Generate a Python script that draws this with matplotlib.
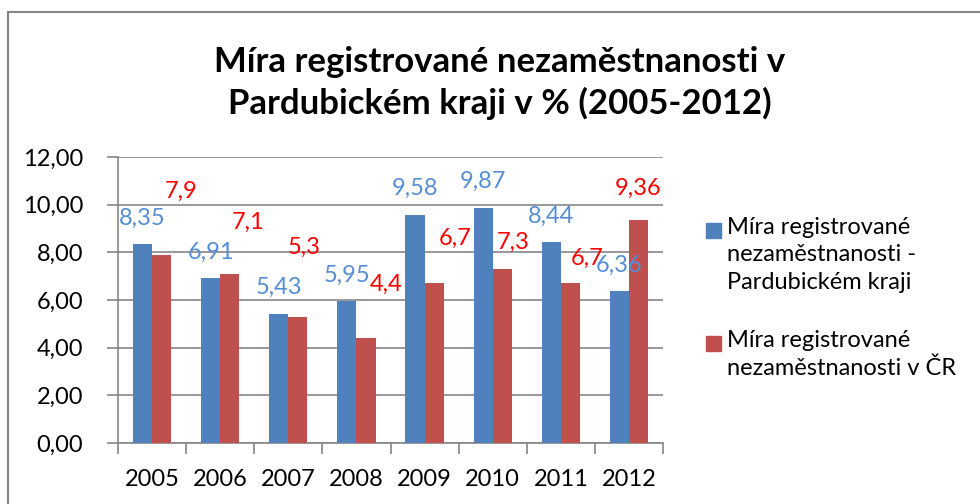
import matplotlib.pyplot as plt
from matplotlib.patches import Rectangle
import numpy as np

plt.rcParams['font.family'] = ['Lato', 'DejaVu Sans']

# Données
roky = ['2005', '2006', '2007', '2008', '2009', '2010', '2011', '2012']
pardubice = [8.35, 6.91, 5.43, 5.95, 9.58, 9.87, 8.44, 6.36]
cr = [7.9, 7.1, 5.3, 4.4, 6.7, 7.3, 6.7, 9.36]
popisky_pardubice = ['8,35', '6,91', '5,43', '5,95', '9,58', '9,87', '8,44', '6,36']
popisky_cr = ['7,9', '7,1', '5,3', '4,4', '6,7', '7,3', '6,7', '9,36']
nazvy = ['Míra registrované\nnezaměstnanosti -\nPardubickém kraji',
         'Míra registrované\nnezaměstnanosti v ČR']

# posun popisku (px) pro červené hodnoty - ručně umístěné jako v Excelu
posun_cr = [(20, 63), (18, 51), (6, 69), (20, 54), (21, 45), (11, 27), (17, 25), (0, 32)]

modra = '#4F81BD'
cervena = '#C0504D'
sediva = '#868686'

fig = plt.figure(figsize=(9.8, 5.04), dpi=100)
ax = fig.add_axes([118/980, 61/504, 545/980, 286/504])

x = np.arange(len(roky))
w = 0.28
ax.bar(x - w/2, pardubice, w, color=modra, zorder=3)
ax.bar(x + w/2, cr, w, color=cervena, zorder=3)

for i in range(len(roky)):
    ax.annotate(popisky_pardubice[i], (x[i] - w/2, pardubice[i]), xytext=(0, 26),
                textcoords='offset pixels', ha='center', va='center',
                color='#558ED5', fontsize=17)
    dx, dy = posun_cr[i]
    ax.annotate(popisky_cr[i], (x[i] + w/2, cr[i]), xytext=(dx, dy),
                textcoords='offset pixels', ha='center', va='center',
                color='#FF0000', fontsize=17)

ax.set_xlim(-0.5, len(roky) - 0.5)
ax.set_ylim(0, 12)
ax.set_yticks(np.arange(0, 13, 2))
ax.set_yticklabels([f'{v:.2f}'.replace('.', ',') for v in np.arange(0, 13, 2)])
ax.set_xticks(x)
ax.set_xticklabels(roky)
ax.set_xticks(np.arange(-0.5, len(roky)), minor=True)
ax.tick_params(axis='x', which='major', length=0, pad=19, labelsize=17)
ax.tick_params(axis='x', which='minor', length=8, color=sediva, width=1.2)
ax.tick_params(axis='y', length=8, color=sediva, width=1.2, labelsize=17, pad=17)
ax.grid(axis='y', color=sediva, linewidth=1.2, zorder=0)
for s in ['top', 'right']:
    ax.spines[s].set_visible(False)
for s in ['left', 'bottom']:
    ax.spines[s].set_color(sediva)
    ax.spines[s].set_linewidth(1.2)

fig.text(0.51, 1 - 83/504, 'Míra registrované nezaměstnanosti v\nPardubickém kraji v % (2005-2012)',
         ha='center', va='center', fontsize=25, fontweight='bold', linespacing=1.35)

# legenda
barvy = [modra, cervena]
radky_y = [230, 343]
for barva, nazev, y0 in zip(barvy, nazvy, radky_y):
    fig.patches.append(Rectangle((706/980, 1 - (y0 + 7.5)/504), 15/980, 15/504,
                                 transform=fig.transFigure, color=barva))
    fig.text(727/980, 1 - (y0 - 13)/504, nazev, ha='left', va='top',
             fontsize=17, linespacing=1.38)

# rámeček grafu
fig.patches.append(Rectangle((8/980, -0.1), 1.2, 1.1 - 12/504, transform=fig.transFigure,
                             fill=False, edgecolor=sediva, linewidth=1.5))

fig.savefig('out.png', dpi=100)
